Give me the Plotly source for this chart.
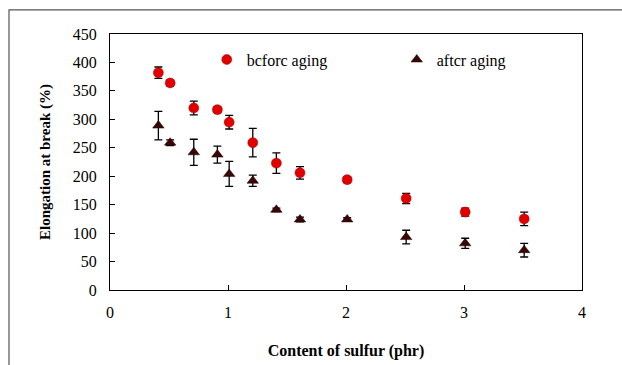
import plotly.graph_objects as go

x_sulfur = [0.41, 0.51, 0.71, 0.91, 1.01, 1.21, 1.41, 1.61, 2.01, 2.51, 3.01, 3.51]
before_aging = [382, 364, 320, 317, 295, 259, 223, 206, 194, 161, 137, 125]
before_err = [10, 5, 12, 5, 12, 25, 18, 11, 5, 9, 7, 12]
after_aging = [289, 259, 242, 238, 204, 192, 141, 124, 124, 93, 82, 70]
after_err = [25, 5, 23, 15, 22, 10, 3, 4, 3, 12, 9, 12]

font_family = "'Liberation Serif', 'Times New Roman', Times, serif"

fig = go.Figure()
fig.add_trace(go.Scatter(
    x=x_sulfur, y=before_aging, mode="markers", name="bcforc aging",
    marker=dict(symbol="circle", size=10, color="#e00000", line=dict(color="#b00000", width=0.5)),
    error_y=dict(type="data", array=before_err, color="black", thickness=1.3, width=4),
))
fig.add_trace(go.Scatter(
    x=x_sulfur, y=after_aging, mode="markers", name="aftcr aging",
    marker=dict(symbol="triangle-up", size=10, color="#3a0505", line=dict(color="#200000", width=0.5)),
    error_y=dict(type="data", array=after_err, color="black", thickness=1.3, width=4),
))

fig.update_layout(
    width=622, height=365,
    margin=dict(l=110, r=40, t=34, b=75),
    paper_bgcolor="white", plot_bgcolor="white",
    font=dict(family=font_family, size=16, color="black"),
    showlegend=True,
    legend=dict(orientation="h", x=0.205, y=0.9, xanchor="left", yanchor="middle",
                entrywidth=145, entrywidthmode="pixels", bgcolor="rgba(0,0,0,0)",
                itemwidth=30, font=dict(family=font_family, size=16)),
    xaxis=dict(range=[0, 4], dtick=1, showgrid=False, zeroline=False, automargin=False,
               showline=True, linecolor="black", linewidth=1, mirror=True,
               ticks="inside", ticklen=5, tickcolor="black", ticklabelstandoff=8,
               tickfont=dict(family=font_family, size=16),
               title=dict(text="<b>Content of sulfur (phr)</b>", standoff=24,
                          font=dict(family=font_family, size=16))),
    yaxis=dict(range=[0, 450], dtick=50, showgrid=False, zeroline=False, automargin=False,
               showline=True, linecolor="black", linewidth=1, mirror=True,
               ticks="inside", ticklen=5, tickcolor="black", ticklabelstandoff=9,
               tickfont=dict(family=font_family, size=16),
               title=dict(text="<b>Elongation at break (%)</b>", standoff=18,
                          font=dict(family=font_family, size=15))),
    shapes=[dict(type="rect", xref="paper", yref="paper",
                 x0=-0.214, x1=1.3, y0=-0.6, y1=1.094,
                 line=dict(color="#555", width=1.2), fillcolor="rgba(0,0,0,0)", layer="below")],
)

fig.write_html("out.html")
